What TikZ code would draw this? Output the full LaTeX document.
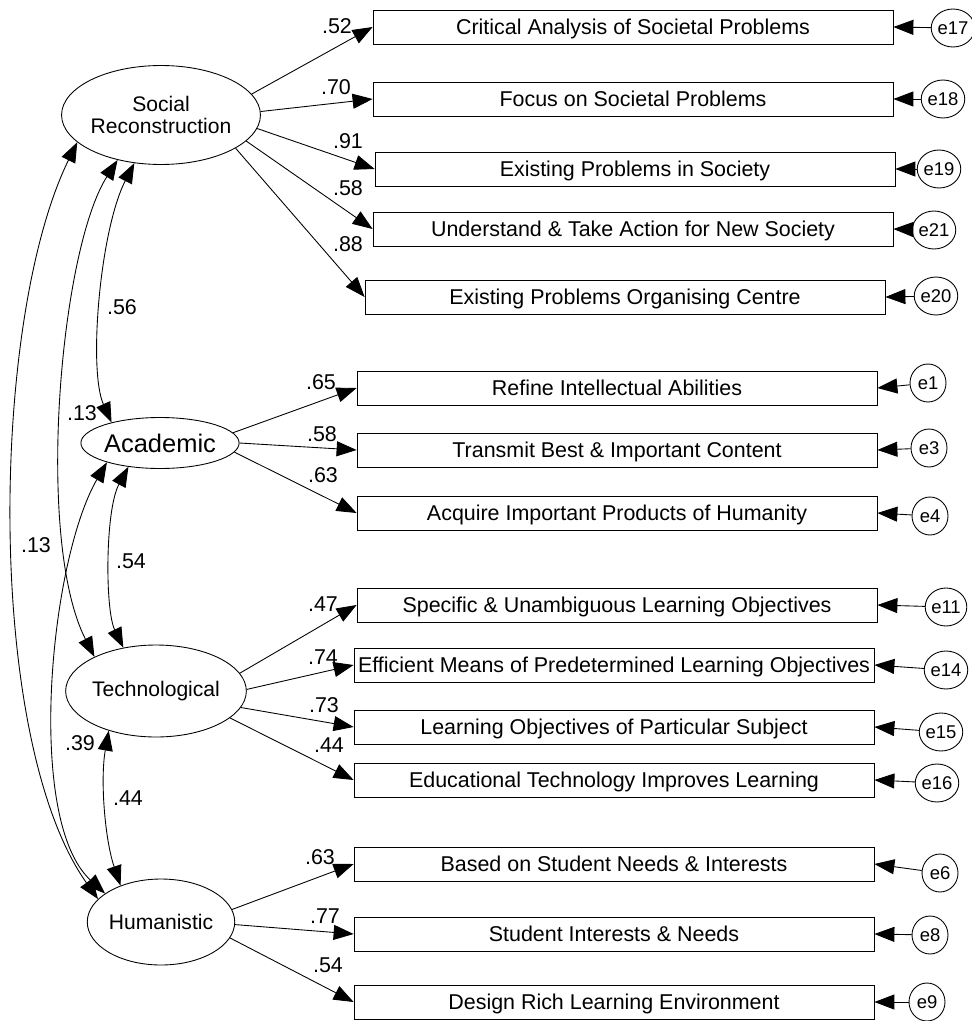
\documentclass[tikz,border=0pt]{standalone}
\usepackage{fontspec}
\setmainfont{Liberation Sans}
\usetikzlibrary{arrows.meta,shapes.geometric}
\tikzset{
  ind/.style={draw, rectangle, minimum width=10.4cm, minimum height=0.68cm, inner sep=0pt, text height=0.34cm, text depth=0.04cm, font=\fontsize{12.2}{14}\selectfont},
  lat/.style={draw, ellipse, inner sep=0pt, align=center, font=\fontsize{12}{12.2}\selectfont},
  err/.style={draw, ellipse, minimum width=0.72cm, minimum height=0.76cm, inner sep=0pt, font=\fontsize{10.5}{11}\selectfont},
  lda/.style={-{Triangle[length=0.4cm,width=0.3cm]}},
  cor/.style={{Triangle[length=0.4cm,width=0.3cm]}-{Triangle[length=0.4cm,width=0.3cm]}},
  lbl/.style={inner sep=0pt, font=\fontsize{12.2}{14}\selectfont},
}
\begin{document}
\begin{tikzpicture}[x=0.02cm, y=-0.02cm, line width=0.5pt]
        \useasboundingbox (0,0) rectangle (972,1021);
        % factors
        \node[lat, minimum width=3.02cm, minimum height=1.98cm] (SR) at (161,115) {Social\\Reconstruction};
        \node[lat, minimum width=2.42cm, minimum height=1.02cm, font=\fontsize{14.5}{15}\selectfont] (AC) at (160,443) {Academic};
        \node[lat, minimum width=3.36cm, minimum height=1.84cm] (TE) at (156,691) {Technological};
        \node[lat, minimum width=2.64cm, minimum height=1.72cm] (HU) at (161,922) {Humanistic};
        % items
        \node[ind] (b1) at (633,27) {Critical Analysis of Societal Problems};
        \node[ind] (b2) at (633,99) {Focus on Societal Problems};
        \node[ind] (b3) at (635,169) {Existing Problems in Society};
        \node[ind] (b4) at (633,229) {Understand \& Take Action for New Society};
        \node[ind] (b5) at (625,297) {Existing Problems Organising Centre};
        \node[ind] (b6) at (617,388) {Refine Intellectual Abilities};
        \node[ind] (b7) at (617,450) {Transmit Best \& Important Content};
        \node[ind] (b8) at (617,513) {Acquire Important Products of Humanity};
        \node[ind] (b9) at (617,605) {Specific \& Unambiguous Learning Objectives};
        \node[ind] (b10) at (614,665) {Efficient Means of Predetermined Learning Objectives};
        \node[ind] (b11) at (614,727) {Learning Objectives of Particular Subject};
        \node[ind] (b12) at (614,780) {Educational Technology Improves Learning};
        \node[ind] (b13) at (614,864) {Based on Student Needs \& Interests};
        \node[ind] (b14) at (614,934) {Student Interests \& Needs};
        \node[ind] (b15) at (614,1002) {Design Rich Learning Environment};
        % error terms
        \node[err] (e17) at (953,28) {e17};
        \node[err] (e18) at (943,99) {e18};
        \node[err] (e19) at (939,169) {e19};
        \node[err] (e21) at (934,230) {e21};
        \node[err] (e20) at (936,296) {e20};
        \node[err] (e1) at (928,383) {e1};
        \node[err] (e3) at (929,448) {e3};
        \node[err] (e4) at (930,516) {e4};
        \node[err] (e11) at (946,607) {e11};
        \node[err] (e14) at (946,670) {e14};
        \node[err] (e15) at (941,732) {e15};
        \node[err] (e16) at (937,783) {e16};
        \node[err] (e6) at (940,873) {e6};
        \node[err] (e8) at (930,935) {e8};
        \node[err] (e9) at (927,1002) {e9};
        \draw[lda] (e17) -- (b1.east);
        \draw[lda] (e18) -- (b2.east);
        \draw[lda] (e19) -- (b3.east);
        \draw[lda] (e21) -- (b4.east);
        \draw[lda] (e20) -- (b5.east);
        \draw[lda] (e1) -- (b6.east);
        \draw[lda] (e3) -- (b7.east);
        \draw[lda] (e4) -- (b8.east);
        \draw[lda] (e11) -- (b9.east);
        \draw[lda] (e14) -- (b10.east);
        \draw[lda] (e15) -- (b11.east);
        \draw[lda] (e16) -- (b12.east);
        \draw[lda] (e6) -- (b13.east);
        \draw[lda] (e8) -- (b14.east);
        \draw[lda] (e9) -- (b15.east);
        % loadings
        \draw[lda] (SR.13) -- (b1.west);
        \draw[lda] (SR.2) -- (b2.west);
        \draw[lda] (SR.-8) -- (b3.west);
        \draw[lda] (SR.-17) -- (b4.west);
        \draw[lda] (SR.-24) -- (b5.west);
        \draw[lda] (AC.8) -- (b6.west);
        \draw[lda] (AC.0) -- (b7.west);
        \draw[lda] (AC.-7) -- (b8.west);
        \draw[lda] (TE.12) -- (b9.west);
        \draw[lda] (TE.1) -- (b10.west);
        \draw[lda] (TE.-11) -- (b11.west);
        \draw[lda] (TE.-20) -- (b12.west);
        \draw[lda] (HU.10) -- (b13.west);
        \draw[lda] (HU.-2) -- (b14.west);
        \draw[lda] (HU.-13) -- (b15.west);
        \node[lbl] (l1) at (337,26) {.52};
        \node[lbl] (l2) at (336,87) {.70};
        \node[lbl] (l3) at (348,141) {.91};
        \node[lbl] (l4) at (348,188) {.58};
        \node[lbl] (l5) at (348,244) {.88};
        \node[lbl] (l6) at (321,382) {.65};
        \node[lbl] (l7) at (322,434) {.58};
        \node[lbl] (l8) at (323,475) {.63};
        \node[lbl] (l9) at (323,604) {.47};
        \node[lbl] (l10) at (323,657) {.74};
        \node[lbl] (l11) at (324,705) {.73};
        \node[lbl] (l12) at (329,745) {.44};
        \node[lbl] (l13) at (320,857) {.63};
        \node[lbl] (l14) at (325,916) {.77};
        \node[lbl] (l15) at (328,965) {.54};
        % correlations
        \draw[cor] (SR.241) .. controls (100,230) and (88,370) .. (AC.157);
        \draw[cor] (SR.226) .. controls (60,250) and (35,540) .. (TE.151);
        \draw[cor] (SR.198) .. controls (-10,320) and (-15,740) .. (HU.160);
        \draw[cor] (AC.217) .. controls (105,510) and (105,610) .. (TE.127);
        \draw[cor] (AC.200) .. controls (50,560) and (25,820) .. (HU.153);
        \draw[cor] (TE.220) .. controls (100,780) and (105,840) .. (HU.138);
        \node[lbl] (c1) at (122,307) {.56};
        \node[lbl] (c2) at (82,413) {.13};
        \node[lbl] (c3) at (36,545) {.13};
        \node[lbl] (c4) at (131,561) {.54};
        \node[lbl] (c5) at (80,743) {.39};
        \node[lbl] (c6) at (128,798) {.44};
    \end{tikzpicture}
\end{document}
